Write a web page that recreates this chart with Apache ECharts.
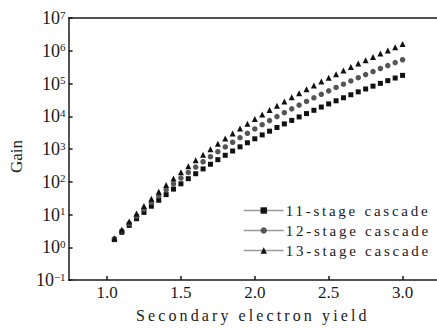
<!DOCTYPE html>
<html>
<head>
<meta charset="utf-8">
<script src="https://cdn.jsdelivr.net/npm/echarts@6/dist/echarts.min.js"></script>
<style>
  html, body { margin: 0; padding: 0; background: #fff; }
  #chart { width: 437px; height: 328px; }
  #chart text { font-family: "Liberation Serif", serif !important; }
  /* the source figure uses wide letter spacing on legend + x title */
  #chart text[style*="15px"] { letter-spacing: 2.75px; }
  #chart text[style*="16px"] { letter-spacing: 3.1px; }
</style>
</head>
<body>
<div id="chart"></div>
<script>
// secondary electron yield (x)
const yieldValues = [
  1.05, 1.10, 1.15, 1.20, 1.25, 1.30, 1.35, 1.40, 1.45, 1.50,
  1.55, 1.60, 1.65, 1.70, 1.75, 1.80, 1.85, 1.90, 1.95, 2.00,
  2.05, 2.10, 2.15, 2.20, 2.25, 2.30, 2.35, 2.40, 2.45, 2.50,
  2.55, 2.60, 2.65, 2.70, 2.75, 2.80, 2.85, 2.90, 2.95, 3.00
];

const gain11 = [
  1.71, 2.85, 4.65, 7.43, 11.6, 17.9, 27.2, 40.5, 59.6, 86.5,
  124, 176, 247, 343, 472, 643, 869, 1165, 1550, 2048,
  2690, 3500, 4540, 5840, 7480, 9530, 12070, 15200, 19090, 23800,
  29600, 36700, 45300, 55600, 68000, 83000, 100800, 122000, 147000, 177000
];

const gain12 = [
  1.80, 3.14, 5.35, 8.92, 14.6, 23.3, 36.8, 56.7, 86.4, 130,
  192, 281, 408, 583, 826, 1157, 1608, 2213, 3023, 4096,
  5510, 7360, 9760, 12850, 16800, 21900, 28400, 36500, 46800, 59600,
  75600, 95400, 120000, 150000, 187000, 232000, 287000, 354000, 434000, 531000
];

const gain13 = [
  1.89, 3.45, 6.15, 10.7, 18.2, 30.3, 49.7, 79.4, 125, 195,
  298, 450, 673, 991, 1446, 2083, 2975, 4205, 5895, 8192,
  11300, 15450, 21000, 28300, 37900, 50400, 66700, 87600, 114600, 149000,
  192700, 248000, 318000, 405000, 514000, 650000, 818000, 1026000, 1281000, 1594000
];

const seriesNames = ["11-stage cascade", "12-stage cascade", "13-stage cascade"];
const xTickValues = [1.0, 1.5, 2.0, 2.5, 3.0];

const serif = "Liberation Serif";
const chart = echarts.init(document.getElementById("chart"), null, { renderer: "svg" });

function pairs(ys) {
  return yieldValues.map((x, i) => [x, ys[i]]);
}

function makeSeries(name, ys, symbol, size, color) {
  return {
    name,
    type: "line",
    data: pairs(ys),
    symbol,
    symbolSize: size,
    showSymbol: true,
    showAllSymbol: true,
    lineStyle: { opacity: 0 },
    itemStyle: { color },
    emphasis: { disabled: true },
    silent: true,
  };
}

chart.setOption({
  animation: false,
  backgroundColor: "#fff",
  grid: { left: 60, right: 0, top: 18, bottom: 48 },
  legend: {
    orient: "vertical",
    left: 243,
    top: 203,
    itemWidth: 40,
    itemHeight: 8,
    itemGap: 5,
    padding: 0,
    lineStyle: { color: "#9a9a9a", width: 1.5, opacity: 1 },
    textStyle: { fontFamily: serif, fontSize: 15, color: "#1a1a1a", padding: [0, 0, 0, -3] },
    data: seriesNames,
  },
  xAxis: [
    {
      type: "value",
      min: 0.74,
      max: 3.233,
      name: "Secondary electron yield",
      nameLocation: "middle",
      nameGap: 27,
      nameTextStyle: { fontFamily: serif, fontSize: 16, color: "#1a1a1a" },
      axisLine: { lineStyle: { color: "#1a1a1a", width: 1.5 } },
      axisTick: { inside: true, length: 4, customValues: xTickValues, lineStyle: { color: "#1a1a1a", width: 1.5 } },
      axisLabel: {
        customValues: xTickValues,
        formatter: (v) => v.toFixed(1),
        fontFamily: serif,
        fontSize: 17,
        color: "#1a1a1a",
        margin: 4,
      },
      splitLine: { show: false },
    },
    {
      type: "value",
      position: "top",
      min: 0.74,
      max: 3.233,
      axisLine: { show: true, lineStyle: { color: "#1a1a1a", width: 1.5 } },
      axisTick: { show: false },
      axisLabel: { show: false },
      splitLine: { show: false },
    },
  ],
  yAxis: {
    type: "log",
    logBase: 10,
    min: 0.1,
    max: 1e7,
    interval: 1,
    name: "Gain",
    nameLocation: "middle",
    nameGap: 38,
    nameRotate: 90,
    nameTextStyle: { fontFamily: serif, fontSize: 17, color: "#1a1a1a", padding: [0, 15, 0, 0] },
    axisLine: { show: true, lineStyle: { color: "#1a1a1a", width: 1.5 } },
    axisTick: { show: true, inside: true, length: 4, lineStyle: { color: "#1a1a1a", width: 1.5 } },
    minorTick: { show: false },
    splitLine: { show: false },
    axisLabel: {
      margin: 3,
      formatter: (v) => {
        const e = String(Math.round(Math.log10(v))).replace("-", "\u2212");
        return "{b|10}{s|" + e + "}";
      },
      rich: {
        b: { fontFamily: serif, fontSize: 18, color: "#1a1a1a", lineHeight: 18 },
        s: { fontFamily: serif, fontSize: 11, color: "#1a1a1a", verticalAlign: "top", lineHeight: 11 },
      },
    },
  },
  series: [
    makeSeries(seriesNames[0], gain11, "rect", 5, "#111"),
    makeSeries(seriesNames[1], gain12, "circle", 5.5, "#555"),
    makeSeries(seriesNames[2], gain13, "triangle", 6, "#111"),
  ],
});
</script>
</body>
</html>
